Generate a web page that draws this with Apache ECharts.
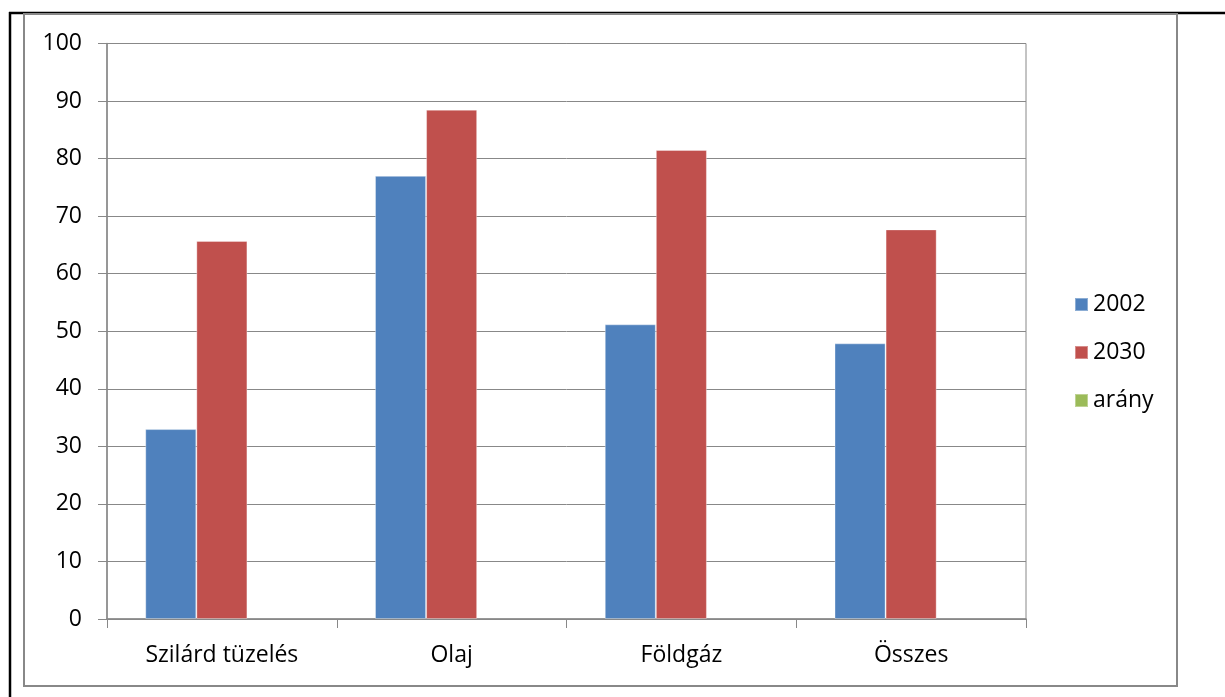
<!DOCTYPE html>
<html>
<head>
<meta charset="utf-8">
<script src="https://cdn.jsdelivr.net/npm/echarts@6/dist/echarts.min.js"></script>
<style>
  html, body { margin: 0; padding: 0; background: #fff; }
  #chart { width: 1225px; height: 697px; }
</style>
</head>
<body>
<div id="chart"></div>
<script>
// Energy categories and shares (%) for 2002 and 2030
const categories = ['Szilárd tüzelés', 'Olaj', 'Földgáz', 'Összes'];
const seriesNames = ['2002', '2030', 'arány'];
const values2002 = [33, 77, 51.2, 47.9];
const values2030 = [65.7, 88.5, 81.5, 67.7];
const valuesArany = [null, null, null, null];
const yTicks = { min: 0, max: 100, interval: 10 };

const FONT = '"Open Sans", Lato, sans-serif';
const FONT_SIZE = 23;
const axisGray = '#888888';

const chart = echarts.init(document.getElementById('chart'), null, { renderer: 'canvas' });

const barStyle = (color) => ({
  color: color,
  borderColor: 'rgba(255,255,255,0.35)',
  borderWidth: 1
});

chart.setOption({
  animation: false,
  backgroundColor: '#ffffff',
  textStyle: { fontFamily: FONT },
  graphic: [
    // outer black frame lines
    { type: 'line', shape: { x1: 9, y1: 13, x2: 1225, y2: 13 }, style: { stroke: '#000', lineWidth: 2.5 }, silent: true },
    { type: 'line', shape: { x1: 10, y1: 12, x2: 10, y2: 697 }, style: { stroke: '#000', lineWidth: 2.5 }, silent: true },
    // chart area border
    { type: 'rect', shape: { x: 24, y: 14, width: 1153, height: 672 }, style: { fill: 'none', stroke: axisGray, lineWidth: 2 }, silent: true }
  ],
  grid: {
    left: 107, right: 199, top: 43.5, bottom: 78, containLabel: false,
    show: true, borderColor: axisGray, borderWidth: 1
  },
  legend: {
    orient: 'vertical',
    left: 1069,
    top: 288,
    itemWidth: 13,
    itemHeight: 13,
    itemGap: 25,
    icon: 'rect',
    data: seriesNames,
    textStyle: { fontFamily: FONT, fontSize: FONT_SIZE, color: '#000' }
  },
  xAxis: {
    type: 'category',
    data: categories,
    axisLine: { show: true, lineStyle: { color: axisGray, width: 1.5 } },
    axisTick: { show: true, alignWithLabel: false, length: 9, lineStyle: { color: axisGray, width: 1 } },
    axisLabel: { margin: 25, fontSize: FONT_SIZE, color: '#000', fontFamily: FONT },
    splitLine: { show: false }
  },
  yAxis: {
    type: 'value',
    min: yTicks.min,
    max: yTicks.max,
    interval: yTicks.interval,
    axisLine: { show: true, lineStyle: { color: axisGray, width: 1.5 } },
    axisTick: { show: true, length: 9, lineStyle: { color: axisGray, width: 1 } },
    axisLabel: { margin: 25, fontSize: FONT_SIZE, color: '#000', fontFamily: FONT },
    splitLine: { show: true, lineStyle: { color: axisGray, width: 1 } }
  },
  series: [
    { name: seriesNames[0], type: 'bar', data: values2002, barGap: '0%', barCategoryGap: '33.3%', itemStyle: barStyle('#4F81BD') },
    { name: seriesNames[1], type: 'bar', data: values2030, barGap: '0%', barCategoryGap: '33.3%', itemStyle: barStyle('#C0504D') },
    { name: seriesNames[2], type: 'bar', data: valuesArany, barGap: '0%', barCategoryGap: '33.3%', itemStyle: barStyle('#9BBB59') }
  ]
});
</script>
</body>
</html>
